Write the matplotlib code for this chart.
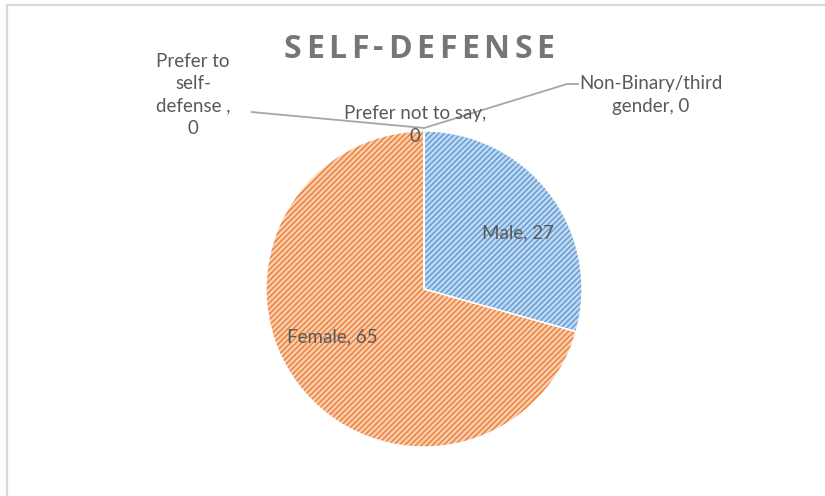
import matplotlib
matplotlib.use('Agg')
import matplotlib.pyplot as plt

# data
cats = ["Male", "Female", "Non-Binary/third gender", "Prefer to self-defense ", "Prefer not to say"]
vals = [27, 65, 0, 0, 0]
# label text as shown (wrapped the way the chart wraps them)
labels = ["Male, 27", "Female, 65", "Non-Binary/third\ngender, 0",
          "Prefer to\nself-\ndefense ,\n0", "Prefer not to say,\n0"]
title = "SELF-DEFENSE"
face_cols = ["#c2d8f0", "#f9cdb0", "#c2d8f0", "#c2d8f0", "#c2d8f0"]
hatch_cols = ["#5b9bd5", "#ed7d31", "#a5a5a5", "#ffc000", "#4472c4"]

W, H = 825, 496
fig = plt.figure(figsize=(W / 100, H / 100), dpi=100)
ax = fig.add_axes([0, 0, 1, 1])

plt.rcParams['hatch.linewidth'] = 1.0

cx, cy, r = 424, H - 289, 158
wedges, _ = ax.pie(vals, center=(cx, cy), radius=r, startangle=90, counterclock=False,
                   frame=True)
for w, fc, hc in zip(wedges, face_cols, hatch_cols):
    w.set_facecolor(fc)
    w.set_edgecolor(hc)
    w.set_linewidth(0)
    w.set_hatch('//////')
# thin white separators on top
ax.pie(vals, center=(cx, cy), radius=r, startangle=90, counterclock=False, frame=True,
       wedgeprops=dict(facecolor='none', edgecolor='white', linewidth=1.0))
ax.set_xlim(0, W)
ax.set_ylim(0, H)
ax.set_aspect('equal')
ax.axis('off')

txt = dict(color='#595959', fontsize=13.5, family='Lato', ha='center', va='center',
           linespacing=1.4)
label_pos = [(518, 233), (332, 337), (651, 95), (193, 95), (415, 125)]
for lab, (x, y) in zip(labels, label_pos):
    ax.text(x, H - y, lab, **txt)

# leader lines
lc = '#a6a6a6'
ax.plot([424, 567, 578], [H - 128, H - 84, H - 84], color=lc, lw=1.3)
ax.plot([252, 262, 424], [H - 112, H - 113, H - 128], color=lc, lw=1.3)

# title with wide letter spacing, one letter at a time
renderer = fig.canvas.get_renderer()
tstyle = dict(color='#767676', fontsize=23, fontweight='bold', family='Open Sans',
              ha='left', va='center')
track = 4.5
chars = []
for ch in title:
    t = ax.text(0, H - 49, ch, **tstyle)
    chars.append((t, t.get_window_extent(renderer).width))
total = sum(wd for _, wd in chars) + track * (len(chars) - 1)
x = 419 - total / 2
for t, wd in chars:
    t.set_x(x)
    x += wd + track

# chart border (top and left only visible)
ax.plot([7, 7, W], [0, H - 4.5, H - 4.5], color='#d9d9d9', lw=1.6, clip_on=False)

fig.savefig('out.png', dpi=100)
